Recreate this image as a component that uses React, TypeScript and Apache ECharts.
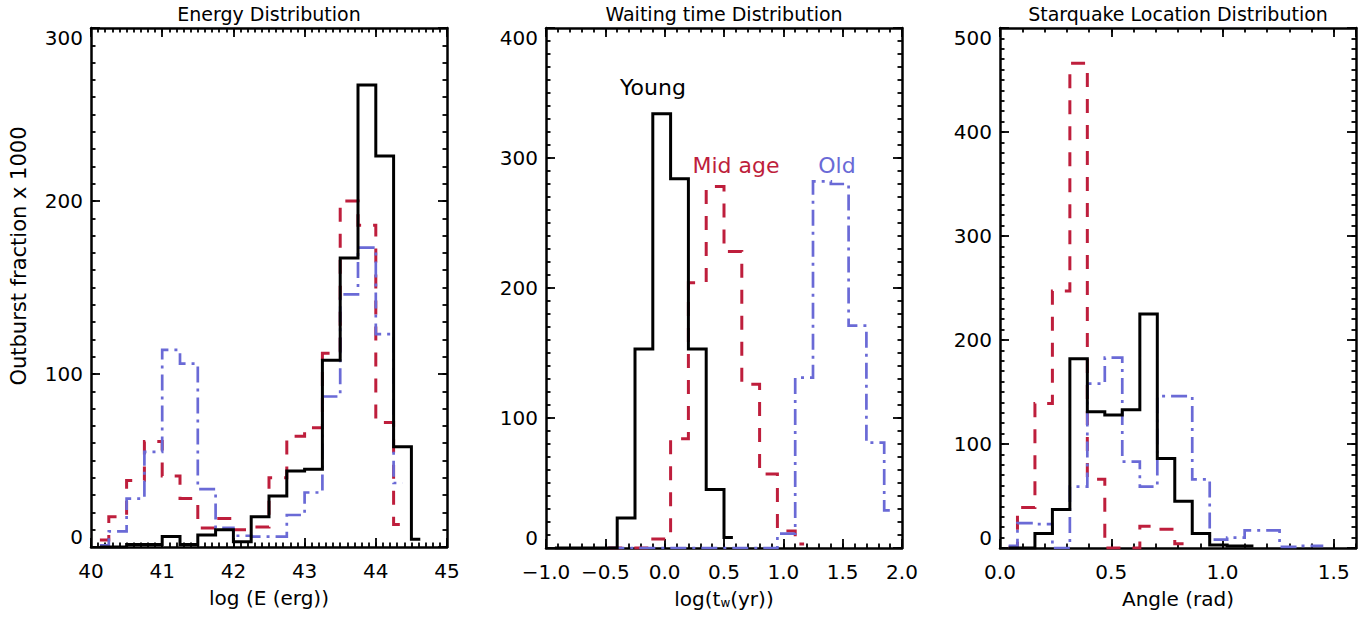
import React, { useEffect, useRef } from "react";
import * as echarts from "echarts";

const FONT = "'DejaVu Sans', sans-serif";
const BLACK = "#000000";
const RED = "#BE1E3C";
const BLUE = "#6A6AD6";

// ---------- Panel 1: Energy distribution (bin centres, log E) ----------
const energyCenters = [40.125, 40.375, 40.625, 40.875, 41.125, 41.375, 41.625, 41.875, 42.125, 42.375, 42.625, 42.875, 43.125, 43.375, 43.625, 43.875, 44.125, 44.375, 44.625];
const energyYoung = [0, 0, 1.5, 1.5, 6, 1.5, 7, 10, 3, 17.5, 29.5, 44, 45, 108, 167, 267, 226, 58, 4.5];
const energyMidAge = [4, 17.5, 38.5, 61, 41, 28, 11, 16.5, 10, 11.5, 40, 64, 69, 112, 200, 186, 72, 13];
const energyOld = [1, 9, 28, 55, 114, 106, 33.5, 11, 6.5, 6, 6, 18.5, 31.5, 87, 146, 173, 123, 37];

// ---------- Panel 2: Waiting time distribution (bin centres, log tw) ----------
const waitYoungCenters = [-0.925, -0.775, -0.625, -0.475, -0.325, -0.175, -0.025, 0.125, 0.275, 0.425, 0.575];
const waitYoung = [0, 0, 0, 0, 23, 153, 334, 284, 153, 45, 8];
const waitMidCenters = [-0.475, -0.325, -0.175, -0.025, 0.125, 0.275, 0.425, 0.575, 0.725, 0.875, 1.025, 1.175];
const waitMidAge = [0, 0, 0, 7, 84, 204, 278, 228, 126, 57, 13, 3];
const waitOldCenters = [-0.475, -0.325, -0.175, -0.025, 0.125, 0.275, 0.425, 0.575, 0.725, 0.875, 1.025, 1.175, 1.325, 1.475, 1.625, 1.775, 1.925];
const waitOld = [0, 0, 0, 0, 0, 0, 0, 0, 0, 0, 11, 131, 282, 280, 171, 81, 29];

// ---------- Panel 3: Starquake location distribution (bin centres, rad) ----------
const angleCenters = [0.039, 0.118, 0.196, 0.275, 0.353, 0.432, 0.51, 0.589, 0.668, 0.746, 0.825, 0.903, 0.982, 1.06, 1.139, 1.217, 1.296, 1.374, 1.453];
const angleYoung = [0, 0, 14, 37, 182, 131, 128, 133, 225, 86, 45, 14, 3, 2, 2];
const angleMidAge = [1, 39, 139, 247, 466, 66, 0, 0, 21, 18, 4];
const angleOld = [2, 24, 23, 0, 59, 158, 183, 83, 59, 146, 146, 66, 8, 10, 17, 17, 1, 2, 2];

// ---------- Axis ranges / ticks ----------
const panelTitles = ["Energy Distribution", "Waiting time Distribution", "Starquake Location Distribution"];
const xRanges = [[40, 45], [-1, 2], [0, 1.6]];
const xMajor = [1, 0.5, 0.5];
const xMinor = [0.1, 0.1, 0.1];
const yRanges = [[0, 300], [0, 400], [0, 500]];
const yMajor = [100, 100, 100];
const yMinor = [10, 10, 10];

const fmtInt = (v: number) => String(Math.round(v));
const fmtOne = (v: number) => (v < 0 ? "\u2212" : "") + Math.abs(v).toFixed(1);
const xFormatters = [fmtInt, fmtOne, fmtOne];

const grids = [
  { left: 91, top: 28, width: 356, height: 519 },
  { left: 546, top: 28, width: 356, height: 520 },
  { left: 1000, top: 28, width: 356, height: 520 },
];

const pairs = (xs: number[], ys: number[]) => ys.map((y, i) => [xs[i], y]);

const tickLine = { color: BLACK, width: 1.8 };

function makeAxis(
  gridIndex: number,
  position: string,
  range: number[],
  interval: number,
  tickLen: number,
  showLine: boolean,
  label: any
) {
  return {
    type: "value",
    gridIndex,
    position,
    min: range[0],
    max: range[1],
    interval,
    axisLine: { show: showLine, onZero: false, lineStyle: { color: BLACK, width: 2.5 } },
    axisTick: { show: true, inside: true, length: tickLen, lineStyle: tickLine },
    minorTick: { show: false },
    splitLine: { show: false },
    minorSplitLine: { show: false },
    axisPointer: { show: false },
    axisLabel: label ? label : { show: false },
  };
}

function histSeries(g: number, xs: number[], ys: number[], color: string, width: number, type: any, z: number) {
  return {
    type: "line",
    step: "middle",
    xAxisIndex: g * 4,
    yAxisIndex: g * 4,
    data: pairs(xs, ys),
    symbol: "none",
    showSymbol: false,
    silent: true,
    z,
    lineStyle: { color, width, type, cap: "butt", join: "miter" },
  };
}

export default function App() {
  const ref = useRef<HTMLDivElement>(null);

  useEffect(() => {
    if (!ref.current) return;
    const chart = echarts.init(ref.current, undefined, { renderer: "svg" });

    const xAxis: any[] = [];
    const yAxis: any[] = [];
    for (let g = 0; g < 3; g++) {
      const xLabel = {
        show: true,
        fontFamily: FONT,
        fontSize: 20,
        color: BLACK,
        margin: 14,
        showMinLabel: true,
        showMaxLabel: g !== 2,
        formatter: xFormatters[g],
      };
      xAxis.push(makeAxis(g, "bottom", xRanges[g], xMajor[g], 9, true, xLabel));
      xAxis.push(makeAxis(g, "top", xRanges[g], xMajor[g], 9, true, null));
      xAxis.push(makeAxis(g, "bottom", xRanges[g], xMinor[g], 4.5, false, null));
      xAxis.push(makeAxis(g, "top", xRanges[g], xMinor[g], 4.5, false, null));

      const yLabel = {
        show: true,
        fontFamily: FONT,
        fontSize: 20,
        color: BLACK,
        margin: 8,
        showMinLabel: true,
        showMaxLabel: true,
        verticalAlignMinLabel: "bottom",
        verticalAlignMaxLabel: "top",
        formatter: fmtInt,
      };
      yAxis.push(makeAxis(g, "left", yRanges[g], yMajor[g], 9, true, yLabel));
      yAxis.push(makeAxis(g, "right", yRanges[g], yMajor[g], 9, true, null));
      yAxis.push(makeAxis(g, "left", yRanges[g], yMinor[g], 4.5, false, null));
      yAxis.push(makeAxis(g, "right", yRanges[g], yMinor[g], 4.5, false, null));
    }

    // axis names
    const nameStyle = { fontFamily: FONT, fontSize: 20, color: BLACK };
    xAxis[0].name = "log (E (erg))";
    xAxis[4].name = "log(t{w|w}(yr))";
    xAxis[8].name = "Angle (rad)";
    [0, 4, 8].forEach((i) => {
      xAxis[i].nameLocation = "middle";
      xAxis[i].nameGap = 41;
      xAxis[i].nameTextStyle = {
        ...nameStyle,
        rich: { w: { fontFamily: FONT, fontSize: 12, color: BLACK, verticalAlign: "bottom", lineHeight: 12 } },
      };
    });

    const red = [14, 12];
    const blue = [16, 6, 3, 6];
    const series = [
      histSeries(0, energyCenters, energyMidAge, RED, 3, red, 3),
      histSeries(0, energyCenters, energyOld, BLUE, 2.7, blue, 4),
      histSeries(0, energyCenters, energyYoung, BLACK, 3, "solid", 5),
      histSeries(1, waitMidCenters, waitMidAge, RED, 3, red, 3),
      histSeries(1, waitOldCenters, waitOld, BLUE, 2.7, blue, 4),
      histSeries(1, waitYoungCenters, waitYoung, BLACK, 3, "solid", 5),
      histSeries(2, angleCenters, angleMidAge, RED, 3, red, 3),
      histSeries(2, angleCenters, angleOld, BLUE, 2.7, blue, 4),
      histSeries(2, angleCenters, angleYoung, BLACK, 3, "solid", 5),
    ];

    const titleCenters = [269, 724, 1178];
    const graphic: any[] = panelTitles.map((t, i) => ({
      type: "text",
      x: titleCenters[i],
      y: 14,
      silent: true,
      style: { text: t, font: `19px ${FONT}`, fill: BLACK, align: "center", verticalAlign: "middle" },
    }));
    graphic.push({
      type: "text",
      x: 19,
      y: 256,
      rotation: Math.PI / 2,
      silent: true,
      style: { text: "Outburst fraction x 1000", font: `21px ${FONT}`, fill: BLACK, align: "center", verticalAlign: "middle" },
    });
    const labels = [
      { text: "Young", x: 653, y: 87, fill: BLACK },
      { text: "Mid age", x: 736, y: 165, fill: RED },
      { text: "Old", x: 837, y: 165, fill: BLUE },
    ];
    labels.forEach((l) =>
      graphic.push({
        type: "text",
        x: l.x,
        y: l.y,
        silent: true,
        style: { text: l.text, font: `22px ${FONT}`, fill: l.fill, align: "center", verticalAlign: "middle" },
      })
    );

    chart.setOption({
      animation: false,
      backgroundColor: "#ffffff",
      textStyle: { fontFamily: FONT },
      grid: grids,
      xAxis,
      yAxis,
      series,
      graphic,
    });

    return () => chart.dispose();
  }, []);

  return (
    <div
      ref={ref}
      style={{ position: "absolute", left: 0, top: 0, width: "1369px", height: "620px", background: "#fff" }}
    />
  );
}
